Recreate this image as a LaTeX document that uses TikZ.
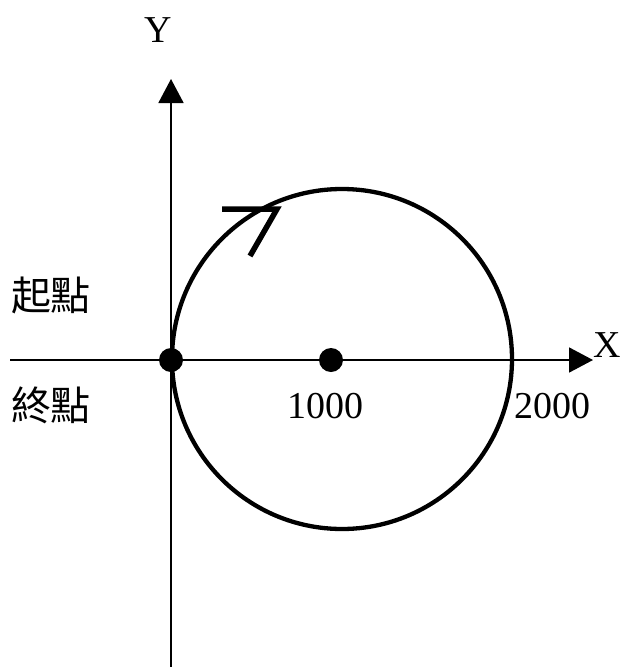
\documentclass[tikz,border=0pt]{standalone}
\usepackage{fontspec}
\setmainfont{Liberation Serif}
\newfontfamily\cjk{Noto Sans CJK TC}
\usetikzlibrary{arrows.meta}
\begin{document}
\begin{tikzpicture}[x=1pt,y=-1pt,
  axis/.style={line width=1.8pt,-{Triangle[length=24pt,width=25pt]}},
  ring/.style={line width=4.3pt},
  dotmark/.style={circle,fill=black,inner sep=0pt,minimum size=24pt},
  lbl/.style={inner sep=0pt,font=\fontsize{38}{38}\selectfont},
  cjklbl/.style={inner sep=0pt,font=\cjk\fontsize{40}{40}\selectfont},
  dirmark/.style={line width=5.5pt,line cap=butt,line join=miter}]
\useasboundingbox (0,0) rectangle (624,667);
% axes
\coordinate (xs) at (10,360);
\coordinate (xe) at (593,360);
\coordinate (ys) at (171,667);
\coordinate (ye) at (171,79);
\draw[axis] (xs) -- (xe);
\draw[axis] (ys) -- (ye);
% circle
\node[ring,draw,circle,minimum size=340pt,inner sep=0pt] (c) at (342,359) {};
% direction mark
\coordinate (m1) at (222,209);
\coordinate (m2) at (277,209);
\coordinate (m3) at (250,256);
\draw[dirmark] (m1) -- (m2) -- (m3);
% dots
\node[dotmark] (start) at (171,360) {};
\node[dotmark] (center) at (331,360) {};
% labels
\node[lbl] (ylab) at (158,30) {Y};
\node[lbl] (xlab) at (607,345) {X};
\node[lbl] (t1000) at (325,406) {1000};
\node[lbl] (t2000) at (552,406) {2000};
\node[cjklbl] (qidian) at (51,295) {起點};
\node[cjklbl] (zhongdian) at (51,405) {終點};
\end{tikzpicture}
\end{document}
